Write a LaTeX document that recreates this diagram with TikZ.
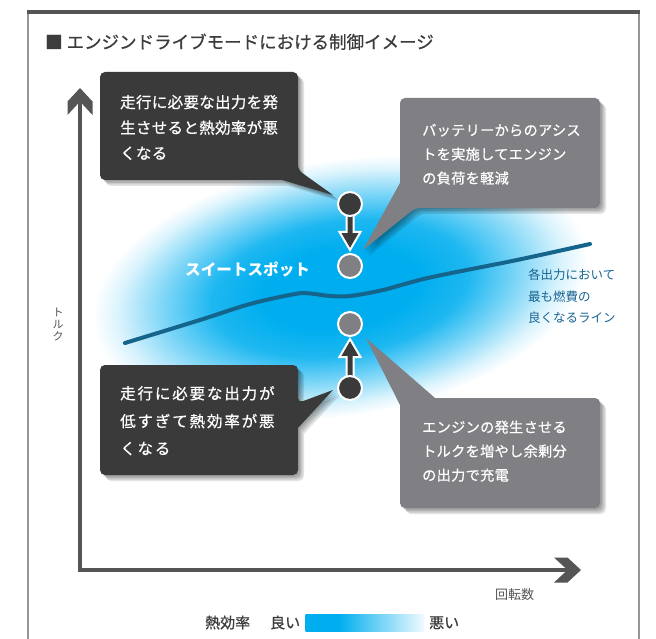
\documentclass[tikz,border=0pt]{standalone}
\usepackage{fontspec}
\setmainfont{Noto Sans CJK JP}
\newfontfamily\jpbox{Noto Sans CJK JP}[LetterSpace=2,FakeBold=0.6]
\newfontfamily\jpwide{Noto Sans CJK JP}[LetterSpace=12,FakeBold=0.6]
\newfontfamily\jpmed{Noto Sans CJK JP}[FakeBold=0.7]
\usetikzlibrary{calc}
\definecolor{sky}{RGB}{0,174,239}
\definecolor{darkc}{RGB}{58,58,58}
\definecolor{grayc}{RGB}{128,128,132}
\definecolor{axisc}{RGB}{85,85,85}
\definecolor{linec}{RGB}{20,100,140}
\definecolor{labc}{RGB}{25,100,145}
\definecolor{framec}{RGB}{150,150,150}
\definecolor{titlec}{RGB}{60,60,60}
\pgfdeclareradialshading{glow}{\pgfpoint{0bp}{0bp}}{color(0bp)=(sky); color(8bp)=(sky); color(13bp)=(sky!88!white); color(18bp)=(sky!50!white); color(22.5bp)=(sky!14!white); color(25bp)=(white); color(50bp)=(white)}
\pgfdeclareradialshading{halo}{\pgfpoint{0bp}{0bp}}{color(0bp)=(white); color(12bp)=(sky!45!white); color(25bp)=(sky); color(50bp)=(sky)}
\pgfdeclarehorizontalshading{legendbar}{100bp}{color(0bp)=(sky); color(25bp)=(sky); color(39bp)=(sky); color(75bp)=(sky!6!white); color(100bp)=(sky!6!white)}
\newcommand\pathTL{(100,126) [rounded corners=5pt] |- (298,72) -- (298,170) [sharp corners] -- (333,195) -- (282,180) [rounded corners=5pt] -| (100,140) -- cycle}
\newcommand\pathTR{(400,140) [rounded corners=5pt] |- (600,98) |- (415,208) [sharp corners] -- (363,250) -- (400,183) -- cycle}
\newcommand\pathLL{(100,420) [rounded corners=5pt] |- (298,365) -- (298,403) [sharp corners] -- (333,390) -- (298,428) [rounded corners=5pt] |- (100,475) -- cycle}
\newcommand\pathLR{(400,450) -- (400,405) [sharp corners] -- (366,338) -- (435,398) [rounded corners=5pt] -| (600,508) -| (400,470) -- cycle}
\tikzset{
  boxtext/.style={anchor=base west, inner sep=0pt, text=white},
  axisline/.style={axisc, line width=4.5pt},
  dotdark/.style={circle, fill=darkc, draw=white, line width=2pt, minimum size=24pt, inner sep=0pt},
  dotgray/.style={circle, fill=grayc, draw=white, line width=2pt, minimum size=24pt, inner sep=0pt},
  arrowpoly/.style={fill=darkc, draw=white, line width=2pt, line join=miter},
  sweetfont/.style={font=\bfseries\fontsize{15.6}{18}\selectfont},
}
\begin{document}
\begin{tikzpicture}[x=1pt,y=-1pt]
\useasboundingbox (0,0) rectangle (656,639);
\fill[white] (0,0) rectangle (656,639);
% frame
\draw[framec, line width=1.2pt] (28,12) -- (28,639);
\draw[framec, line width=1.2pt] (639,12) -- (639,639);
\draw[axisc, line width=4pt] (27.4,12) -- (639.6,12);
% title
\node[anchor=base west, inner sep=0pt, text=titlec, font=\jpmed\fontsize{17.5}{20}\selectfont] (title) at (45,48.6) {■ エンジンドライブモードにおける制御イメージ};
% glow
\begin{scope}[transform canvas={shift={(340,288)}, rotate=9, xscale=1.95}]
  \shade[shading=glow] (0,0) circle (128pt);
\end{scope}
% axes
\coordinate (O) at (80,570);
\coordinate (ytip) at (80,88);
\coordinate (xtip) at (581,570);
\draw[axisline] (O) -- ($(ytip)+(0,13)$);
\draw[axisline] ($(O)+(-2.25,0)$) -- ($(xtip)+(-13,0)$);
\fill[axisc] (ytip) -- ++(12.5,13.5) -- ++(0,13.5) -- ++(-12.5,-13.5) -- ++(-12.5,13.5) -- ++(0,-13.5) -- cycle;
\fill[axisc] (xtip) -- ++(-13.5,12.5) -- ++(-13.5,0) -- ++(13.5,-12.5) -- ++(-13.5,-12.5) -- ++(13.5,0) -- cycle;
\node[align=center, inner sep=0pt, text=axisc, font=\fontsize{11}{12}\selectfont] (ylab) at (58,324.5) {ト\\ル\\ク};
\node[anchor=base west, inner sep=0pt, text=axisc, font=\fontsize{13}{15}\selectfont] (xlab) at (495,599.5) {回転数};
% best line
\draw[linec, line width=4pt, line cap=round] plot[smooth, tension=0.55] coordinates {(125,343) (200,320) (250,304) (295,294) (310,293.5) (330,296) (350,296) (383,290) (430,277.5) (517,260) (590,244)};
\node[anchor=base west, inner sep=0pt, text=labc, font=\fontsize{12.5}{21}\selectfont] (linelab) at (528,279.7) {各出力において};
\node[anchor=base west, inner sep=0pt, text=labc, font=\fontsize{12.5}{21}\selectfont] (linelab2) at (528,301) {最も燃費の};
\node[anchor=base west, inner sep=0pt, text=labc, font=\fontsize{12.5}{21}\selectfont] (linelab3) at (528,322) {良くなるライン};
% sweet spot
\node[anchor=base west, inner sep=0pt, text=white, sweetfont] (sweet) at (185,276) {スイートスポット};
% callout shadows
\foreach \s in {1.5,3,4.5,6}{
  \fill[black, opacity=0.11, shift={(\s,\s)}] \pathTL;
  \fill[black, opacity=0.11, shift={(\s,\s)}] \pathTR;
  \fill[black, opacity=0.11, shift={(\s,\s)}] \pathLL;
  \fill[black, opacity=0.11, shift={(\s,\s)}] \pathLR;
}
\fill[darkc] \pathTL;
\fill[grayc] \pathTR;
\fill[darkc] \pathLL;
\fill[grayc] \pathLR;
% callout texts
\node[boxtext, font=\jpbox\fontsize{15.5}{18}\selectfont] (tl1) at (120,108) {走行に必要な出力を発};
\node[boxtext, font=\jpbox\fontsize{15.5}{18}\selectfont] (tl2) at (120,133.5) {生させると熱効率が悪};
\node[boxtext, font=\jpbox\fontsize{15.5}{18}\selectfont] (tl3) at (120,159) {くなる};
\node[boxtext, font=\jpbox\fontsize{14.2}{17}\selectfont] (tr1) at (422,135.5) {バッテリーからのアシス};
\node[boxtext, font=\jpbox\fontsize{14.2}{17}\selectfont] (tr2) at (422,159.5) {トを実施してエンジン};
\node[boxtext, font=\jpbox\fontsize{14.2}{17}\selectfont] (tr3) at (422,183.5) {の負荷を軽減};
\node[boxtext, font=\jpwide\fontsize{15.5}{18}\selectfont] (ll1) at (120,399.2) {走行に必要な出力が};
\node[boxtext, font=\jpwide\fontsize{15.5}{18}\selectfont] (ll2) at (120,427) {低すぎて熱効率が悪};
\node[boxtext, font=\jpwide\fontsize{15.5}{18}\selectfont] (ll3) at (120,454.3) {くなる};
\node[boxtext, font=\jpbox\fontsize{14.2}{17}\selectfont] (lr1) at (422,432.5) {エンジンの発生させる};
\node[boxtext, font=\jpbox\fontsize{14.2}{17}\selectfont] (lr2) at (422,456.5) {トルクを増やし余剰分};
\node[boxtext, font=\jpbox\fontsize{14.2}{17}\selectfont] (lr3) at (422,480.5) {の出力で充電};
% operating points
\coordinate (d1pos) at (350,204);
\coordinate (d2pos) at (350,388);
\filldraw[arrowpoly] ([shift={(d1pos)}]-3.5,8) -- ([shift={(d1pos)}]3.5,8) -- ([shift={(d1pos)}]3.5,28) -- ([shift={(d1pos)}]10.5,28) -- ([shift={(d1pos)}]0,46) -- ([shift={(d1pos)}]-10.5,28) -- ([shift={(d1pos)}]-3.5,28) -- cycle;
\filldraw[arrowpoly] ([shift={(d2pos)}]-3.5,-8) -- ([shift={(d2pos)}]3.5,-8) -- ([shift={(d2pos)}]3.5,-31) -- ([shift={(d2pos)}]10.5,-31) -- ([shift={(d2pos)}]0,-49) -- ([shift={(d2pos)}]-10.5,-31) -- ([shift={(d2pos)}]-3.5,-31) -- cycle;
\node[dotdark] (d1) at (d1pos) {};
\node[dotgray] (g1) at (350,266) {};
\node[dotgray] (g2) at (350,324) {};
\node[dotdark] (d2) at (d2pos) {};
% legend
\node[anchor=base west, inner sep=0pt, text=titlec, font=\jpmed\fontsize{15}{18}\selectfont] (leg1) at (205,628.2) {熱効率};
\node[anchor=base west, inner sep=0pt, text=titlec, font=\jpmed\fontsize{15}{18}\selectfont] (leg2) at (270,628.2) {良い};
\shade[shading=legendbar] (305.5,614) rectangle (424,631);
\node[anchor=base west, inner sep=0pt, text=titlec, font=\jpmed\fontsize{15}{18}\selectfont] (leg3) at (429,628.2) {悪い};
\end{tikzpicture}
\end{document}
